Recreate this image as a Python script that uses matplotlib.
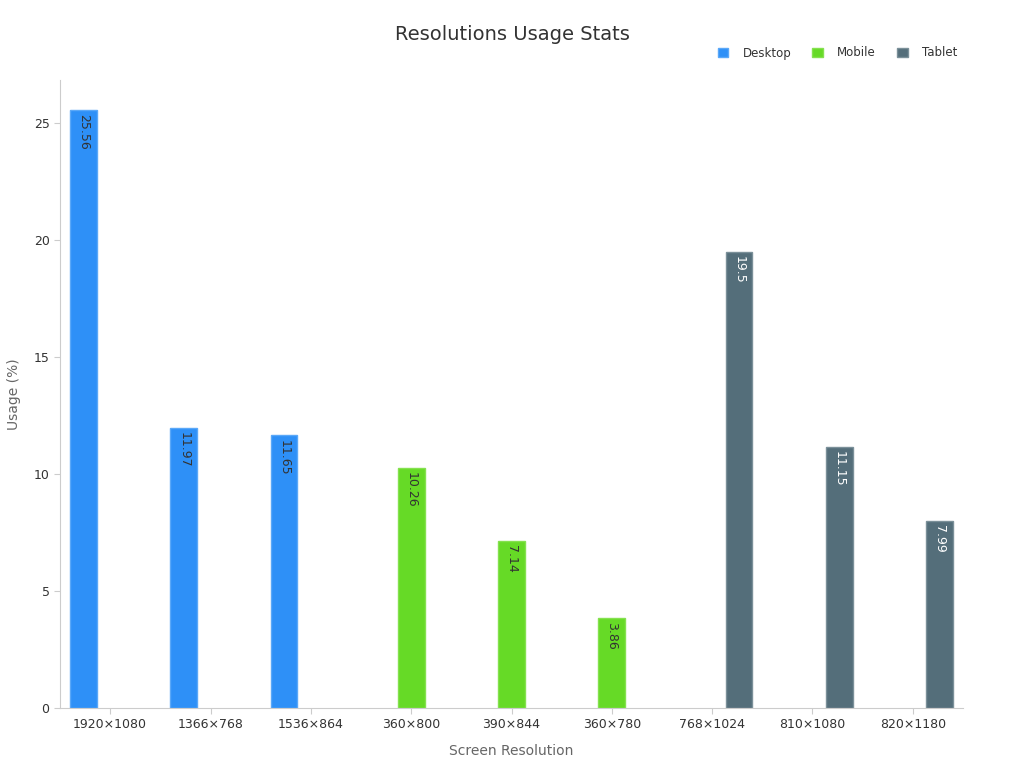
import numpy as np
import matplotlib.pyplot as plt
from matplotlib.patches import Patch

categories = ['1920×1080', '1366×768', '1536×864', '360×800', '390×844',
              '360×780', '768×1024', '810×1080', '820×1180']
nan = np.nan
desktop = [25.56, 11.97, 11.65, nan, nan, nan, nan, nan, nan]
mobile = [nan, nan, nan, 10.26, 7.14, 3.86, nan, nan, nan]
tablet = [nan, nan, nan, nan, nan, nan, 19.5, 11.15, 7.99]

series = [('Desktop', desktop, '#2e90f7', '#5aa8f8', '#333333'),
          ('Mobile', mobile, '#66da26', '#85e14f', '#333333'),
          ('Tablet', tablet, '#546e7a', '#7b9099', '#ffffff')]

fig = plt.figure(figsize=(10.24, 7.68), dpi=100)
ax = fig.add_axes([60/1024, 60/768, 903/1024, 628/768])

x = np.arange(len(categories))
w = 0.266
for i, (name, vals, col, edge, tcol) in enumerate(series):
    vals = np.array(vals, dtype=float)
    pos = x + (i - 1) * w
    ax.bar(pos, vals, width=w, color=col, edgecolor=edge, linewidth=1)
    for p, v in zip(pos, vals):
        if np.isnan(v):
            continue
        ax.annotate(f'{v:g}', (p, v), xytext=(0, -3), textcoords='offset points',
                    ha='center', va='top', rotation=-90, fontsize=9, color=tcol)

ax.set_xlim(-0.5, len(categories) - 0.5)
ax.set_ylim(0, 26.84)
ax.set_xticks(x)
ax.set_xticklabels(categories)
ax.set_yticks([0, 5, 10, 15, 20, 25])
for s in ['top', 'right']:
    ax.spines[s].set_visible(False)
for s in ['left', 'bottom']:
    ax.spines[s].set_color('#cccccc')
ax.tick_params(axis='both', colors='#cccccc', labelcolor='#333333', labelsize=9, length=4)

ax.set_xlabel('Screen Resolution', fontsize=10, color='#666666', labelpad=9)
ax.set_ylabel('Usage (%)', fontsize=10, color='#666666', labelpad=9)
fig.text(0.5, 1 - 34/768, 'Resolutions Usage Stats', ha='center', va='center',
         fontsize=14, color='#333333')

handles = [Patch(facecolor=c, edgecolor=e) for _, _, c, e, _ in series]
fig.legend(handles, [s[0] for s in series], loc='center right', ncol=3,
           bbox_to_anchor=(968/1024, 1 - 53/768), frameon=False, fontsize=8.5,
           labelcolor='#333333', handlelength=0.9, handleheight=0.9,
           columnspacing=1.8, handletextpad=1.2)

fig.savefig('out.png', dpi=100)
